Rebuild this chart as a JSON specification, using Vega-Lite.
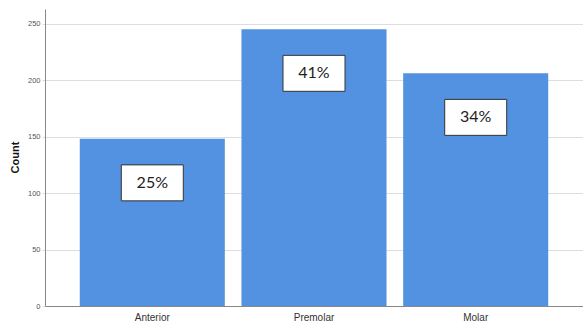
{
  "$schema": "https://vega.github.io/schema/vega-lite/v6.json",
  "autosize": {"type": "none"},
  "padding": {"left": 45, "top": 9, "right": 0, "bottom": 16},
  "width": 538,
  "height": 297,
  "background": "white",
  "data": {"values": [
    {"type": "Anterior", "count": 148, "pct": "25%"},
    {"type": "Premolar", "count": 245, "pct": "41%"},
    {"type": "Molar", "count": 206, "pct": "34%"}
  ]},
  "encoding": {
    "x": {
      "field": "type", "type": "nominal", "sort": null,
      "scale": {"paddingInner": 0.103, "paddingOuter": 0.215},
      "axis": {
        "title": null, "labelAngle": 0, "ticks": false, "grid": false,
        "domainColor": "#888888", "labelFont": "Liberation Sans",
        "labelFontSize": 10, "labelColor": "#333333", "labelPadding": 6
      }
    },
    "y": {
      "field": "count", "type": "quantitative",
      "scale": {"domain": [0, 263], "nice": false},
      "axis": {
        "title": "Count", "values": [0, 50, 100, 150, 200, 250],
        "titleFont": "Liberation Sans", "titleFontSize": 11, "titleFontWeight": "bold",
        "titleColor": "#111111", "titleAngle": -90, "titleAlign": "center",
        "titleBaseline": "middle", "titleX": -30, "titleY": 148,
        "labelFont": "Liberation Sans", "labelFontSize": 7.5, "labelColor": "#555555",
        "labelPadding": 2, "tickSize": 3, "tickColor": "#dddddd",
        "gridColor": "#dddddd", "gridWidth": 1.2, "domainColor": "#888888"
      }
    }
  },
  "layer": [
    {"mark": {"type": "bar", "color": "#5392e1"}},
    {
      "mark": {
        "type": "point", "filled": true, "fill": "white", "fillOpacity": 1,
        "stroke": "#333333", "strokeWidth": 1, "opacity": 1,
        "shape": "M-1,-0.58H1V0.58H-1Z", "size": 3844, "yOffset": 44
      },
      "encoding": {}
    },
    {
      "mark": {
        "type": "text", "font": "Lato", "fontSize": 16, "color": "#222222",
        "baseline": "middle", "align": "center", "yOffset": 44
      },
      "encoding": {"text": {"field": "pct"}}
    }
  ],
  "config": {"view": {"stroke": null}}
}
